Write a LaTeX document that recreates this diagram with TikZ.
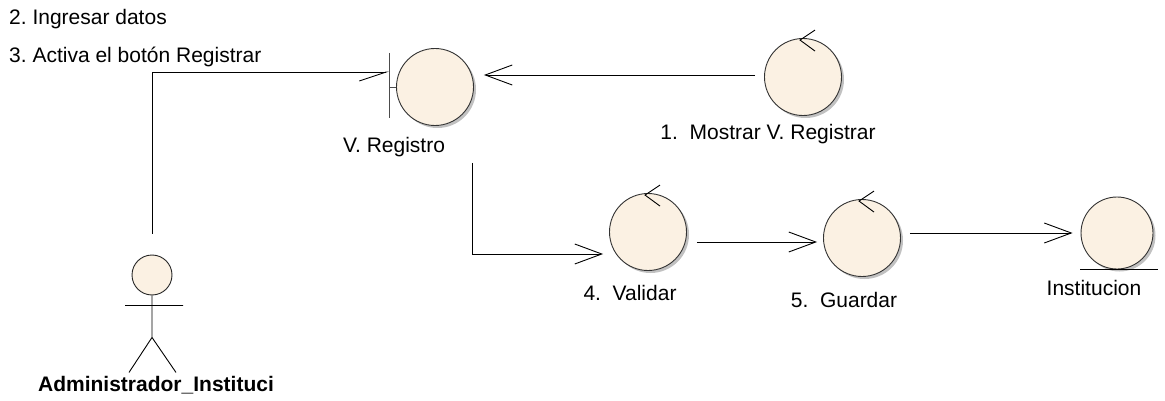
\documentclass[tikz,border=0pt]{standalone}
\usepackage{fontspec}
\setmainfont{Liberation Sans}
\usetikzlibrary{arrows.meta,shadows}
\definecolor{objfill}{RGB}{251,241,227}
\newcommand\ctlhook[1]{%
  \draw[conn] ([shift={(12,-8)}]#1.north) -- ([shift={(-3,2)}]#1.north) -- ([shift={(12,13)}]#1.north);}

\begin{document}
\frenchspacing
\begin{tikzpicture}[
  x=1pt,
  y=-1pt,
  conn/.style={
    line width=.9pt,
    black
  },
  obj/.style={
    circle,
    draw=black!80,
    line width=.9pt,
    fill=objfill,
    inner sep=0pt,
    minimum size=77pt,
    drop shadow={shadow xshift=2.5pt, shadow yshift=-2.5pt, fill=black!35, opacity=.7}
  },
  txt/.style={
    anchor=base,
    inner sep=0pt,
    font=\fontsize{21}{25}\selectfont
  },
  msg/.style={
    conn,
    -{Straight Barb[length=27pt,width=20pt]}
  },
  halfmsg/.style={
    conn,
    -{Straight Barb[length=27pt,width=18pt,right]}
  },
]
\useasboundingbox (0,0) rectangle (1165,401);

\node[obj] (vreg) at (435,87) {};
\node[obj] (mostrar) at (803,77) {};
\node[obj] (val) at (648,232) {};
\node[obj] (gua) at (862,238) {};
\node[obj, minimum size=72pt] (inst) at (1117,233) {};
\node[circle, draw=black!85, fill=objfill, line width=.9pt, minimum size=40pt, inner sep=0pt] (admin) at (152,275) {};

\ctlhook{mostrar}
\ctlhook{val}
\ctlhook{gua}
\draw[conn, black!70] (vreg.west) -- ++(-7,0) coordinate (vregbar)
  ([yshift=34pt]vregbar) -- ([yshift=-31pt]vregbar);
\draw[conn] ([shift={(-37,0)}]inst.south) -- ([shift={(41,0)}]inst.south);
\draw[conn] (admin.south) -- ++(0,42) coordinate (hip)
  (hip) -- ++(-23,35) (hip) -- ++(24,35)
  ([shift={(-27,10)}]admin.south) -- ++(58,0);

\node[txt, anchor=base west] (step2) at (9,25) {2. Ingresar datos};
\node[txt, anchor=base west] (step3) at (9,63) {3. Activa el botón Registrar};
\node[txt] (vreglbl) at (394,153) {V. Registro};
\node[txt] (mostrarlbl) at (768,140) {1.\ \ Mostrar V. Registrar};
\node[txt] (vallbl) at (630,300) {4.\ \ Validar};
\node[txt] (gualbl) at (844,307) {5.\ \ Guardar};
\node[txt] (instlbl) at (1094,295) {Institucion};
\node[txt, font=\fontsize{21}{25}\selectfont\bfseries] (adminlbl) at (156,391) {Administrador\_Instituci};

\draw[halfmsg] ([yshift=21pt]admin.north) |- ([shift={(-7,-15)}]vreg.west);
\draw[msg] ([shift={(-9,-2)}]mostrar.west) -- ([shift={(10,-12)}]vreg.east);
\draw[msg] ([shift={(37,76)}]vreg.center) |- ([shift={(-6,22)}]val.west);
\draw[msg] ([shift={(10,10)}]val.east) -- ([shift={(-6,4)}]gua.west);
\draw[msg] ([shift={(9,-5)}]gua.east) -- ([shift={(-8,0)}]inst.west);
\end{tikzpicture}
\end{document}
